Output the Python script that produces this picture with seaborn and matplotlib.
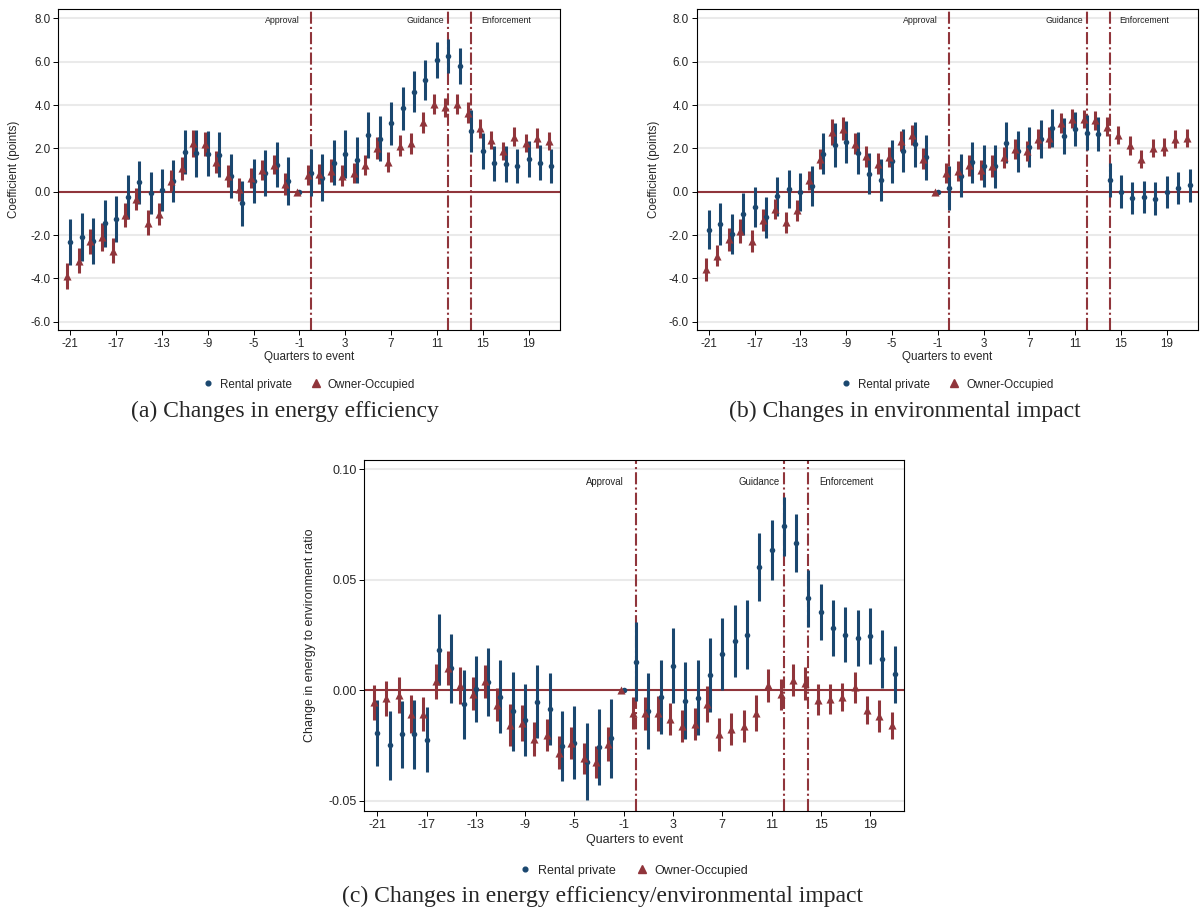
from __future__ import annotations

import matplotlib

matplotlib.use("Agg")

import matplotlib.pyplot as plt
import pandas as pd
import seaborn as sns
from matplotlib.lines import Line2D


QUARTERS = list(range(-21, 22))

# (a) energy efficiency, coefficient and half width of the CI
EFF_RENTAL = [-2.31, -2.08, -2.29, -1.46, -1.25, -0.23, 0.43, -0.05, 0.08, 0.49,
              1.85, 1.77, 1.75, 1.70, 0.74, -0.54, 0.50, 0.86, 1.25, 0.50,
              0.0, 0.88, 0.65, 1.34, 1.74, 1.46, 2.62, 2.45, 3.15, 3.85,
              4.62, 5.15, 6.08, 6.26, 5.80, 2.80, 1.89, 1.31, 1.28, 1.18,
              1.51, 1.34, 1.18]
EFF_RENTAL_CI = [1.06, 1.10, 1.06, 1.10, 1.05, 1.02, 0.98, 0.98, 0.97, 0.98,
                 1.02, 1.09, 1.04, 1.04, 1.02, 1.03, 1.03, 1.05, 1.05, 1.12,
                 0.0, 1.10, 1.10, 1.04, 1.10, 1.05, 1.08, 1.03, 1.00, 0.98,
                 0.95, 0.92, 0.82, 0.80, 0.82, 0.96, 0.84, 0.82, 0.82, 0.80,
                 0.81, 0.80, 0.80]
EFF_OWNER = [-3.89, -3.18, -2.28, -2.08, -2.72, -1.08, -0.34, -1.43, -1.03, 0.51,
             1.08, 2.23, 2.20, 1.37, 0.74, 0.11, 0.62, 1.00, 1.25, 0.35,
             0.0, 0.77, 0.82, 0.97, 0.74, 0.85, 1.23, 2.00, 1.38, 2.12,
             2.23, 3.20, 4.05, 3.89, 4.05, 3.65, 2.92, 2.38, 1.89, 2.54,
             2.26, 2.49, 2.35]
EFF_OWNER_CI = [0.59, 0.59, 0.58, 0.65, 0.57, 0.55, 0.52, 0.57, 0.51, 0.48,
                0.52, 0.62, 0.54, 0.52, 0.50, 0.52, 0.46, 0.48, 0.45, 0.50,
                0.0, 0.48, 0.47, 0.52, 0.48, 0.47, 0.48, 0.51, 0.46, 0.49,
                0.48, 0.50, 0.46, 0.42, 0.46, 0.48, 0.43, 0.42, 0.41, 0.44,
                0.41, 0.46, 0.42]

# (b) environmental impact
ENV_RENTAL = [-1.75, -1.48, -1.96, -1.02, -0.71, -1.19, -0.22, 0.12, -0.02, 0.28,
              1.75, 2.14, 2.30, 1.77, 0.83, 0.53, 1.40, 1.89, 2.18, 1.58,
              0.0, 0.18, 0.74, 1.35, 1.20, 1.17, 2.27, 1.86, 2.08, 2.43,
              2.94, 2.55, 2.89, 2.72, 2.66, 0.54, 0.00, -0.28, -0.24, -0.32,
              0.00, 0.17, 0.29]
ENV_RENTAL_CI = [0.91, 0.98, 0.92, 0.98, 0.91, 0.93, 0.88, 0.88, 0.87, 0.92,
                 0.95, 1.02, 0.96, 0.97, 0.95, 0.96, 0.98, 1.00, 1.02, 1.04,
                 0.0, 1.02, 1.00, 0.96, 0.96, 0.98, 0.96, 0.94, 0.92, 0.88,
                 0.86, 0.83, 0.77, 0.81, 0.78, 0.77, 0.77, 0.75, 0.73, 0.75,
                 0.73, 0.75, 0.75]
ENV_OWNER = [-3.58, -2.95, -2.20, -1.82, -2.27, -1.30, -0.80, -1.42, -0.86, 0.52,
             1.51, 2.75, 2.91, 2.22, 1.63, 1.29, 1.62, 2.35, 2.62, 1.52,
             0.0, 0.86, 0.95, 1.21, 1.00, 1.20, 1.58, 1.95, 1.88, 2.43,
             2.50, 3.17, 3.37, 3.35, 3.29, 3.00, 2.62, 2.14, 1.50, 2.00,
             2.08, 2.43, 2.48]
ENV_OWNER_CI = [0.52, 0.50, 0.52, 0.56, 0.50, 0.50, 0.47, 0.50, 0.48, 0.45,
                0.47, 0.60, 0.52, 0.48, 0.48, 0.48, 0.46, 0.45, 0.46, 0.48,
                0.0, 0.45, 0.46, 0.48, 0.46, 0.50, 0.50, 0.46, 0.46, 0.48,
                0.50, 0.45, 0.45, 0.42, 0.44, 0.43, 0.42, 0.44, 0.42, 0.42,
                0.42, 0.42, 0.40]

# (c) energy efficiency / environmental impact ratio
RATIO_RENTAL = [-0.0194, -0.0250, -0.0200, -0.0200, -0.0224, 0.0184, 0.0099, -0.0063, 0.0005, 0.0039,
                -0.0029, -0.0095, -0.0135, -0.0051, -0.0085, -0.0252, -0.0237, -0.0323, -0.0256, -0.0218,
                0.0, 0.0130, -0.0095, -0.0030, 0.0112, -0.0047, -0.0033, 0.0068, 0.0163, 0.0224,
                0.0252, 0.0558, 0.0636, 0.0742, 0.0666, 0.0416, 0.0355, 0.0284, 0.0252, 0.0237,
                0.0245, 0.0142, 0.0072]
RATIO_RENTAL_CI = [0.0151, 0.0156, 0.0151, 0.0157, 0.0147, 0.0160, 0.0155, 0.0156, 0.0150, 0.0154,
                   0.0166, 0.0178, 0.0163, 0.0166, 0.0163, 0.0160, 0.0167, 0.0173, 0.0173, 0.0178,
                   0.0, 0.0177, 0.0173, 0.0168, 0.0172, 0.0173, 0.0171, 0.0168, 0.0163, 0.0162,
                   0.0158, 0.0152, 0.0136, 0.0134, 0.0132, 0.0128, 0.0126, 0.0127, 0.0125, 0.0128,
                   0.0126, 0.0130, 0.0128]
RATIO_OWNER = [-0.0055, -0.0037, -0.0021, -0.0107, -0.0108, 0.0040, 0.0100, 0.0023, -0.0015, 0.0040,
               -0.0066, -0.0156, -0.0150, -0.0222, -0.0202, -0.0282, -0.0239, -0.0308, -0.0325, -0.0244,
               0.0, -0.0102, -0.0105, -0.0104, -0.0130, -0.0162, -0.0153, -0.0063, -0.0200, -0.0174,
               -0.0162, -0.0102, 0.0023, -0.0019, 0.0045, 0.0031, -0.0042, -0.0039, -0.0029, 0.0013,
               -0.0089, -0.0118, -0.0159]
RATIO_OWNER_CI = [0.0079, 0.0079, 0.0081, 0.0087, 0.0078, 0.0080, 0.0077, 0.0084, 0.0075, 0.0074,
                  0.0075, 0.0095, 0.0081, 0.0077, 0.0072, 0.0075, 0.0073, 0.0070, 0.0073, 0.0078,
                  0.0, 0.0073, 0.0074, 0.0080, 0.0072, 0.0072, 0.0073, 0.0083, 0.0073, 0.0072,
                  0.0074, 0.0081, 0.0074, 0.0072, 0.0072, 0.0074, 0.0069, 0.0067, 0.0064, 0.0069,
                  0.0064, 0.0072, 0.0060]

EVENT_NAMES = ["Approval", "Guidance", "Enforcement"]
EVENT_QUARTERS = [0, 12, 14]
X_TICKS = list(range(-21, 20, 4))
GROUPS = ["Rental private", "Owner-Occupied"]
CAPTIONS = [
    "(a) Changes in energy efficiency",
    "(b) Changes in environmental impact",
    "(c) Changes in energy efficiency/environmental impact",
]

NAVY = "#1a476f"
MAROON = "#90353b"
GRID = "#eaeaea"


def build_frame(rental, rental_ci, owner, owner_ci) -> pd.DataFrame:
    """Long table of both groups; owners are drawn a quarter step to the left."""
    rental_df = pd.DataFrame({"quarter": QUARTERS, "coef": rental, "ci": rental_ci})
    rental_df["group"] = GROUPS[0]
    rental_df["shift"] = 0.0
    owner_df = pd.DataFrame({"quarter": QUARTERS, "coef": owner, "ci": owner_ci})
    owner_df["group"] = GROUPS[1]
    owner_df["shift"] = -0.25
    frame = pd.concat([rental_df, owner_df], ignore_index=True)
    frame["x"] = frame["quarter"] + frame["shift"]
    frame["low"] = frame["coef"] - frame["ci"]
    frame["high"] = frame["coef"] + frame["ci"]
    return frame


def draw_panel(ax, frame, ylim, yticks, fmt, ylabel, event_y, fs, ev_fs, ylab_x):
    ax.set_xlim(-22.05, 21.75)
    ax.set_ylim(*ylim)
    for tick in yticks:
        ax.axhline(tick, color=GRID, lw=1.5, zorder=0)
    ax.axhline(0, color=MAROON, lw=1.5, zorder=1)
    for quarter in EVENT_QUARTERS:
        ax.axvline(quarter, color=MAROON, lw=1.5, linestyle=(0, (5.8, 1.5, 1.0, 1.5)), zorder=1)

    colors = {GROUPS[0]: NAVY, GROUPS[1]: MAROON}
    markers = {GROUPS[0]: "o", GROUPS[1]: "^"}
    sizes = {GROUPS[0]: 16, GROUPS[1]: 34}
    for group in GROUPS:
        sub = frame[frame["group"] == group]
        bars = sub[sub["ci"] > 0]
        ax.vlines(bars["x"], bars["low"], bars["high"], color=colors[group], lw=2.2, zorder=2)
        sns.scatterplot(data=sub, x="x", y="coef", color=colors[group], marker=markers[group],
                        s=sizes[group], linewidth=0, ax=ax, legend=False, zorder=3)

    offsets = [(-1.0, "right"), (-0.35, "right"), (0.85, "left")]
    for name, quarter, (dx, ha) in zip(EVENT_NAMES, EVENT_QUARTERS, offsets):
        ax.text(quarter + dx, event_y, name, ha=ha, va="center", fontsize=ev_fs, color="#222222")

    ax.set_xticks(X_TICKS)
    ax.set_xticklabels([str(t) for t in X_TICKS], fontsize=fs)
    ax.set_yticks(yticks)
    ax.set_yticklabels([fmt.format(t) for t in yticks], fontsize=fs)
    ax.tick_params(axis="both", which="major", bottom=True, left=True, direction="out",
                   length=3.6, width=0.7, pad=2, color="black")
    for spine in ax.spines.values():
        spine.set_color("black")
        spine.set_linewidth(0.8)
    ax.set_xlabel("Quarters to event", fontsize=fs)
    ax.set_ylabel(ylabel, fontsize=fs)
    ax.xaxis.set_label_coords(0.5, -0.065)
    ax.yaxis.set_label_coords(ylab_x, 0.5)

    handles = [
        Line2D([], [], color=NAVY, marker="o", linestyle="none", markersize=3.4),
        Line2D([], [], color=MAROON, marker="^", linestyle="none", markersize=5.2),
    ]
    ax.legend(handles, GROUPS, loc="center", bbox_to_anchor=(0.5, -0.17), ncol=2, frameon=False,
              fontsize=fs, handlelength=0.8, handletextpad=0.6, columnspacing=1.7)


sns.set_style("white")
plt.rcParams["font.family"] = ["Liberation Sans", "DejaVu Sans"]
plt.rcParams["axes.unicode_minus"] = False

fig = plt.figure(figsize=(12, 9.13), dpi=100)
ax_a = fig.add_axes([0.0486, 0.6386, 0.4181, 0.3515])
ax_b = fig.add_axes([0.5806, 0.6386, 0.4180, 0.3515])
ax_c = fig.add_axes([0.3036, 0.1117, 0.4497, 0.3845])

points_ticks = [-6.0, -4.0, -2.0, 0.0, 2.0, 4.0, 6.0, 8.0]
draw_panel(ax_a, build_frame(EFF_RENTAL, EFF_RENTAL_CI, EFF_OWNER, EFF_OWNER_CI),
           (-6.38, 8.43), points_ticks, "{:.1f}", "Coefficient (points)", 7.9, 8.4, 6.3, -0.076)
draw_panel(ax_b, build_frame(ENV_RENTAL, ENV_RENTAL_CI, ENV_OWNER, ENV_OWNER_CI),
           (-6.38, 8.43), points_ticks, "{:.1f}", "Coefficient (points)", 7.9, 8.4, 6.3, -0.074)
draw_panel(ax_c, build_frame(RATIO_RENTAL, RATIO_RENTAL_CI, RATIO_OWNER, RATIO_OWNER_CI),
           (-0.0547, 0.1043), [-0.05, 0.0, 0.05, 0.10], "{:.2f}",
           "Change in energy to environment ratio", 0.0945, 9.0, 6.9, -0.090)

caption_pos = [(285, 411), (905, 411), (603, 896)]
for text, (px, py) in zip(CAPTIONS, caption_pos):
    fig.text(px / 1200, 1 - py / 913, text, ha="center", va="center", fontsize=17,
             family=["Liberation Serif", "DejaVu Serif"])

fig.savefig("out.png", dpi=100, facecolor="white")
plt.close(fig)
